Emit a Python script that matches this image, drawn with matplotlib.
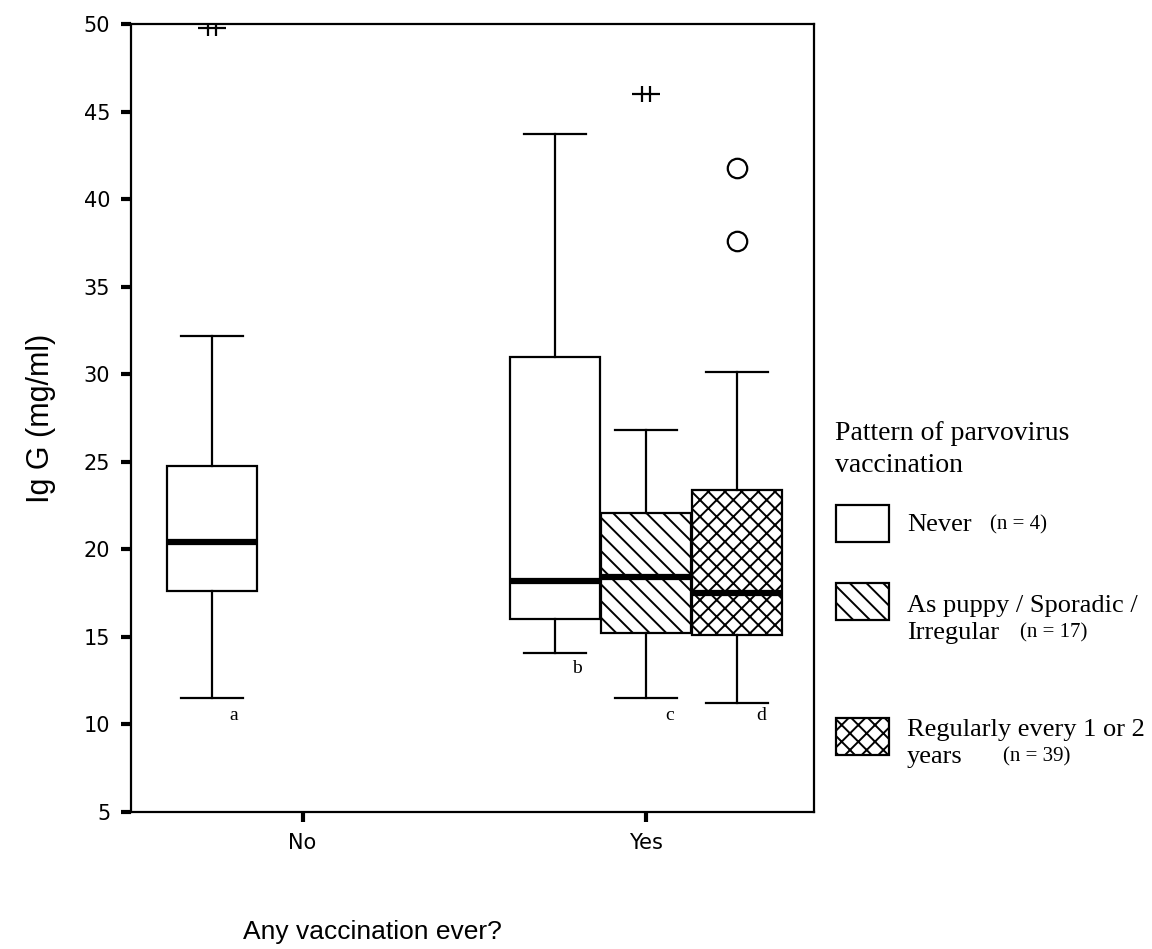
import numpy as np
import matplotlib
matplotlib.use("Agg")
import matplotlib.pyplot as plt
from matplotlib.patches import Rectangle
from matplotlib.path import Path

# groups on the x axis and vaccination patterns (legend)
groups = ["No", "Yes"]
patterns = ["Never", "As puppy / Sporadic /\nIrregular", "Regularly every 1 or 2\nyears"]
pattern_n = ["(n = 4)", "(n = 17)", "(n = 39)"]
hatches = ["", "\\\\", "xx"]

# one box per (group, pattern) that has data
box_group = [0, 1, 1, 1]
box_pattern = [0, 0, 1, 2]
whis_lo = [11.5, 14.1, 11.5, 11.2]
q1 = [17.6, 16.0, 15.2, 15.1]
med = [20.4, 18.2, 18.4, 17.5]
q3 = [24.75, 31.0, 22.1, 23.4]
whis_hi = [32.2, 43.7, 26.8, 30.1]
box_letters = ["a", "b", "c", "d"]

# extreme values (asterisk) and outliers (circle): box index, value
extreme_box = [0, 2]
extreme_val = [49.8, 46.0]
outlier_box = [3, 3]
outlier_val = [41.8, 37.6]

plt.rcParams["hatch.color"] = "black"
plt.rcParams["hatch.linewidth"] = 1.4

fig = plt.figure(figsize=(11.52, 9.49), dpi=100)
ax = fig.add_axes([131/1152, 1 - 812/949, (814-131)/1152, (812-24)/949])

offs = [-0.265, 0.0, 0.265]
pos = [box_group[i] + 1 + offs[box_pattern[i]] for i in range(len(med))]

stats = []
for i in range(len(med)):
    stats.append(dict(whislo=whis_lo[i], q1=q1[i], med=med[i], q3=q3[i],
                      whishi=whis_hi[i], fliers=[]))

bp = ax.bxp(stats, positions=pos, widths=0.262, patch_artist=True,
            showfliers=False, capwidths=0.18,
            boxprops=dict(facecolor="white", edgecolor="black", linewidth=1.6),
            medianprops=dict(color="black", linewidth=4.5, solid_capstyle="butt"),
            whiskerprops=dict(color="black", linewidth=1.6),
            capprops=dict(color="black", linewidth=1.6))
for i, b in enumerate(bp["boxes"]):
    b.set_hatch(hatches[box_pattern[i]])

# SPSS style asterisk for extremes
star = Path([(-1, 0), (1, 0), (-0.3, -0.55), (-0.3, 0.55), (0.3, -0.55), (0.3, 0.55)],
            [Path.MOVETO, Path.LINETO, Path.MOVETO, Path.LINETO, Path.MOVETO, Path.LINETO])
ax.plot([pos[i] for i in extreme_box], extreme_val, linestyle="none", marker=star,
        markersize=20, markeredgecolor="black", markeredgewidth=1.6, clip_on=True)
ax.plot([pos[i] for i in outlier_box], outlier_val, linestyle="none", marker="o",
        markersize=14, markerfacecolor="none", markeredgecolor="black",
        markeredgewidth=1.6)

# letters under the whiskers
let_dx = [0.065, 0.065, 0.07, 0.07]
let_y = [10.5, 13.2, 10.5, 10.5]
for i, t in enumerate(box_letters):
    ax.text(pos[i] + let_dx[i], let_y[i], t, family="Liberation Serif",
            fontsize=14, ha="center", va="center")

ax.set_xlim(0.5, 2.49)
ax.set_ylim(5, 50)
ax.set_yticks(np.arange(5, 51, 5))
ax.set_xticks([1, 2])
ax.set_xticklabels(groups)
for s in ax.spines.values():
    s.set_linewidth(1.6)
ax.tick_params(direction="out", length=7, width=3, labelsize=15, pad=8)
ax.set_ylabel("Ig G (mg/ml)", family="Liberation Sans", fontsize=22, labelpad=20)
fig.text(372/1152, 1 - 932/949, "Any vaccination ever?", family="Liberation Sans",
         fontsize=19, ha="center", va="center")

# legend drawn in figure pixel space
lax = fig.add_axes([0, 0, 1, 1])
lax.set_xlim(0, 1152)
lax.set_ylim(949, 0)
lax.axis("off")
lax.text(835, 433, "Pattern of parvovirus", family="Liberation Serif",
         fontsize=20, va="center")
lax.text(835, 465, "vaccination", family="Liberation Serif", fontsize=20, va="center")
patch_y = [505, 583, 718]
text_y = [525, 606, 730]
n_x = [990, 1020, 1003]
leg_hatch = ["", "\\\\", "xx"]
for k in range(3):
    lax.add_patch(Rectangle((836, patch_y[k]), 53, 37, facecolor="white",
                            edgecolor="black", linewidth=1.6, hatch=leg_hatch[k]))
    lines = patterns[k].split("\n")
    lax.text(907, text_y[k], lines[0], family="Liberation Serif", fontsize=19,
             va="center")
    if len(lines) > 1:
        lax.text(907, text_y[k] + 27, lines[1], family="Liberation Serif",
                 fontsize=19, va="center")
        lax.text(n_x[k], text_y[k] + 27, pattern_n[k], family="Liberation Serif",
                 fontsize=15, va="center")
    else:
        lax.text(n_x[k], text_y[k], pattern_n[k], family="Liberation Serif",
                 fontsize=15, va="center")

fig.savefig("out.png", dpi=100)
